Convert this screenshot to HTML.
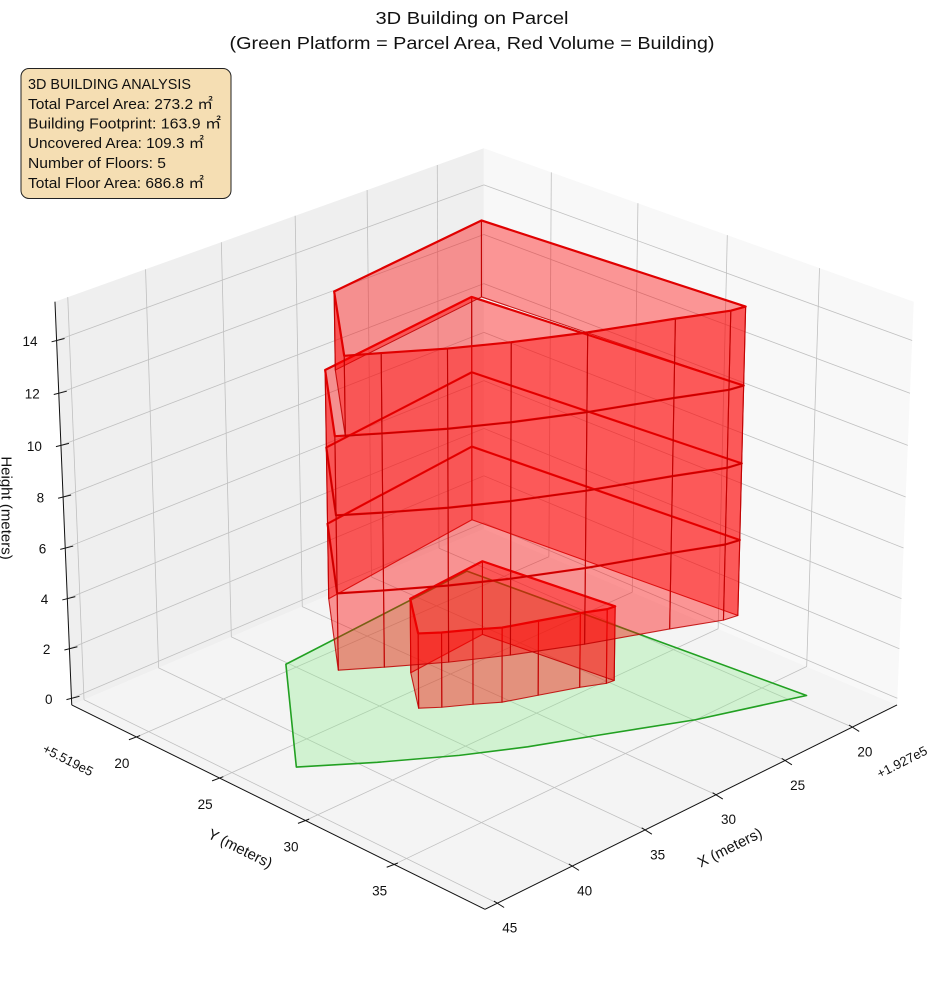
<!DOCTYPE html>
<html><head><meta charset="utf-8"><style>
html,body{margin:0;padding:0;background:#fff;}
svg{display:block;font-family:"Liberation Sans","Noto Sans CJK JP",sans-serif;}
</style></head><body>
<svg id="chart" width="944" height="992" viewBox="0 0 944 992" xmlns="http://www.w3.org/2000/svg">
<rect x="0" y="0" width="944" height="992" fill="#ffffff"/>
<g id="panes"></g>
<g id="grid"></g>
<g id="axes"></g>
<g id="data"></g>
<text x="472" y="24" text-anchor="middle" font-size="17.5" textLength="193" lengthAdjust="spacingAndGlyphs" fill="#111">3D Building on Parcel</text>
<text x="472" y="49" text-anchor="middle" font-size="17.5" textLength="485" lengthAdjust="spacingAndGlyphs" fill="#111">(Green Platform = Parcel Area, Red Volume = Building)</text>
<g>
<rect x="21" y="68.5" width="210" height="130" rx="8" ry="8" fill="#f5deb3" stroke="#222" stroke-width="1"/>
<text x="28" y="89" font-size="14.5" textLength="163" lengthAdjust="spacingAndGlyphs" fill="#111">3D BUILDING ANALYSIS</text>
<text x="28" y="109" font-size="14.5" textLength="185" lengthAdjust="spacingAndGlyphs" fill="#111">Total Parcel Area: 273.2 ㎡</text>
<text x="28" y="128.5" font-size="14.5" textLength="193" lengthAdjust="spacingAndGlyphs" fill="#111">Building Footprint: 163.9 ㎡</text>
<text x="28" y="148" font-size="14.5" textLength="176" lengthAdjust="spacingAndGlyphs" fill="#111">Uncovered Area: 109.3 ㎡</text>
<text x="28" y="168" font-size="14.5" textLength="138" lengthAdjust="spacingAndGlyphs" fill="#111">Number of Floors: 5</text>
<text x="28" y="188" font-size="14.5" textLength="176" lengthAdjust="spacingAndGlyphs" fill="#111">Total Floor Area: 686.8 ㎡</text>
</g>
<text x="0" y="0" transform="translate(730,848) rotate(-26.5)" text-anchor="middle" dominant-baseline="central" font-size="15" fill="#111">X (meters)</text>
<text x="0" y="0" transform="translate(240,849) rotate(26.5)" text-anchor="middle" dominant-baseline="central" font-size="15" fill="#111">Y (meters)</text>
<text x="0" y="0" transform="translate(6,508) rotate(90)" text-anchor="middle" dominant-baseline="central" font-size="15" fill="#111">Height (meters)</text>
<text x="0" y="0" transform="translate(902,762) rotate(-27)" text-anchor="middle" dominant-baseline="central" font-size="13" fill="#111">+1.927e5</text>
<text x="0" y="0" transform="translate(68,760) rotate(27)" text-anchor="middle" dominant-baseline="central" font-size="13" fill="#111">+5.519e5</text>
</svg>
<script>
// ---- axis limits (data units, offsets removed) ----
const xlim = [16.61, 45.81];
const ylim = [16.0, 39.95];
const zlim = [-0.27, 15.46];
const xTicks = [20, 25, 30, 35, 40, 45];
const yTicks = [20, 25, 30, 35];
const zTicks = [0, 2, 4, 6, 8, 10, 12, 14];

// ---- data: parcel polygon (z = 0) ----
const parcelX = [35.65, 42.87, 39.74, 36.40, 33.40, 30.22, 25.46, 19.59, 21.48];
const parcelY = [19.95, 26.91, 28.90, 30.80, 32.22, 33.47, 35.39, 37.15, 18.95];

// ---- data: building footprints ----
const ground_X = [26.20, 31.84, 34.29, 33.40, 32.07, 30.89, 29.07, 26.97, 25.71, 25.20];
const ground_Y = [23.76, 24.18, 26.70, 27.31, 28.02, 28.73, 29.34, 30.05, 30.58, 30.63];
const upperX = [34.73, 23.06, 21.63, 22.52, 25.13, 29.33, 32.76, 35.44, 38.04, 39.85];
const upperY = [21.81, 20.56, 34.76, 34.63, 33.63, 32.15, 30.72, 29.41, 27.91, 26.80];
const topX = [34.38, 22.71, 21.63, 22.52, 25.13, 29.33, 32.76, 35.44, 38.04, 39.50];
const topY = [22.10, 20.85, 34.76, 34.63, 33.63, 32.15, 30.72, 29.41, 27.91, 27.09];

// ---- data: floors ----
const floorBase = [0, 3, 6, 9, 12];
const floorTop = [3, 6, 9, 12, 15];
const floorFootprint = [0, 1, 1, 1, 2];

// ---- camera calibration (unit cube corners -> screen) ----
const cubePts = [[1,0,0],[1,1,0],[0,1,0],[0,0,0],[1,0,1],[0,0,1],[0,1,1]];
const screenPts = [[71.7,705],[485,909.3],[897,705],[484,529],[55,301.7],[483.8,148.3],[913.8,301.7]];

function fitCamera(){
  const A = [], b = [];
  for (let i = 0; i < cubePts.length; i++) {
    const [U,V,W] = cubePts[i]; const [sx,sy] = screenPts[i];
    A.push([U,V,W,1,0,0,0,0,-sx*U,-sx*V,-sx*W]); b.push(sx);
    A.push([0,0,0,0,U,V,W,1,-sy*U,-sy*V,-sy*W]); b.push(sy);
  }
  const n = 11, N = [], r = [];
  for (let i = 0; i < n; i++) {
    N.push(new Array(n).fill(0)); r.push(0);
    for (let k = 0; k < A.length; k++) {
      r[i] += A[k][i]*b[k];
      for (let j = 0; j < n; j++) N[i][j] += A[k][i]*A[k][j];
    }
  }
  for (let c = 0; c < n; c++) {
    let piv = c;
    for (let i = c+1; i < n; i++) if (Math.abs(N[i][c]) > Math.abs(N[piv][c])) piv = i;
    [N[c], N[piv]] = [N[piv], N[c]]; [r[c], r[piv]] = [r[piv], r[c]];
    for (let i = c+1; i < n; i++) {
      const f = N[i][c]/N[c][c];
      for (let j = c; j < n; j++) N[i][j] -= f*N[c][j];
      r[i] -= f*r[c];
    }
  }
  const p = new Array(n).fill(0);
  for (let i = n-1; i >= 0; i--) {
    let s = r[i];
    for (let j = i+1; j < n; j++) s -= N[i][j]*p[j];
    p[i] = s/N[i][i];
  }
  return p;
}
const cam = fitCamera();
function proj(x, y, z){
  const U = (x-xlim[0])/(xlim[1]-xlim[0]);
  const V = (y-ylim[0])/(ylim[1]-ylim[0]);
  const W = (z-zlim[0])/(zlim[1]-zlim[0]);
  const d = cam[8]*U + cam[9]*V + cam[10]*W + 1;
  return [(cam[0]*U+cam[1]*V+cam[2]*W+cam[3])/d, (cam[4]*U+cam[5]*V+cam[6]*W+cam[7])/d];
}

const NS = "http://www.w3.org/2000/svg";
const gPanes = document.getElementById('panes');
const gGrid = document.getElementById('grid');
const gAxes = document.getElementById('axes');
const gData = document.getElementById('data');
function ptsStr(pts){ return pts.map(p => p[0].toFixed(2)+','+p[1].toFixed(2)).join(' '); }
function addPoly(parent, pts, fill, stroke, sw, name){
  const el = document.createElementNS(NS, 'polygon');
  el.setAttribute('points', ptsStr(pts));
  el.setAttribute('fill', fill);
  el.setAttribute('stroke', stroke);
  el.setAttribute('stroke-width', sw);
  el.setAttribute('stroke-linejoin', 'round');
  
  
  parent.appendChild(el);
  return el;
}
function addLine(parent, a, b, stroke, sw, name){
  const el = document.createElementNS(NS, 'line');
  el.setAttribute('x1', a[0].toFixed(2)); el.setAttribute('y1', a[1].toFixed(2));
  el.setAttribute('x2', b[0].toFixed(2)); el.setAttribute('y2', b[1].toFixed(2));
  el.setAttribute('stroke', stroke); el.setAttribute('stroke-width', sw);
  
  
  parent.appendChild(el);
  return el;
}
function addText(parent, x, y, str, anchor, name){
  const el = document.createElementNS(NS, 'text');
  el.setAttribute('x', x.toFixed(2)); el.setAttribute('y', y.toFixed(2));
  el.setAttribute('text-anchor', anchor);
  el.setAttribute('dominant-baseline', 'central');
  el.setAttribute('font-size', '13.5');
  el.setAttribute('fill', '#111');
  el.textContent = str;
  
  
  parent.appendChild(el);
  return el;
}

const [x0,x1] = xlim, [y0,y1] = ylim, [z0,z1] = zlim;
// panes
addPoly(gPanes, [proj(x1,y0,z0),proj(x0,y0,z0),proj(x0,y1,z0),proj(x1,y1,z0)], '#f4f4f4', 'none', 0, 'floor-pane');
addPoly(gPanes, [proj(x1,y0,z0),proj(x0,y0,z0),proj(x0,y0,z1),proj(x1,y0,z1)], '#efefef', 'none', 0, 'left-pane');
addPoly(gPanes, [proj(x0,y0,z0),proj(x0,y1,z0),proj(x0,y1,z1),proj(x0,y0,z1)], '#f8f8f8', 'none', 0, 'right-pane');

// gridlines
const gc = '#c0c0c0', gw = 0.8;
xTicks.forEach(t => {
  addLine(gGrid, proj(t,y0,z0), proj(t,y1,z0), gc, gw, 'x-gridline-floor');
  addLine(gGrid, proj(t,y0,z0), proj(t,y0,z1), gc, gw, 'x-gridline-pane');
});
yTicks.forEach(t => {
  addLine(gGrid, proj(x0,t,z0), proj(x1,t,z0), gc, gw, 'y-gridline-floor');
  addLine(gGrid, proj(x0,t,z0), proj(x0,t,z1), gc, gw, 'y-gridline-pane');
});
zTicks.forEach(t => {
  addLine(gGrid, proj(x0,y0,t), proj(x1,y0,t), gc, gw, 'z-gridline-left');
  addLine(gGrid, proj(x0,y0,t), proj(x0,y1,t), gc, gw, 'z-gridline-right');
});

// axis lines
addLine(gAxes, proj(x1,y1,z0), proj(x0,y1,z0), '#111', 1, 'x-axis-line');
addLine(gAxes, proj(x1,y0,z0), proj(x1,y1,z0), '#111', 1, 'y-axis-line');
addLine(gAxes, proj(x1,y0,z0), proj(x1,y0,z1), '#111', 1, 'z-axis-line');

// ticks + labels
xTicks.forEach(t => {
  const p = proj(t, y1, z0);
  addLine(gAxes, [p[0]-3.4,p[1]-2.1], [p[0]+6.8,p[1]+4.3], '#111', 1, 'x-tick');
  addText(gAxes, p[0]+12.5, p[1]+25, String(t), 'middle', 'x-tick-label');
});
yTicks.forEach(t => {
  const p = proj(x1, t, z0);
  addLine(gAxes, [p[0]+3.7,p[1]-1.4], [p[0]-7.5,p[1]+2.8], '#111', 1, 'y-tick');
  addText(gAxes, p[0]-14.5, p[1]+26.5, String(t), 'middle', 'y-tick-label');
});
zTicks.forEach(t => {
  const p = proj(x1, y0, t);
  addLine(gAxes, [p[0]+8,p[1]-2], [p[0]-5,p[1]+1.3], '#111', 1, 'z-tick');
  addText(gAxes, p[0]-19, p[1]+1, String(t), 'end', 'z-tick-label');
});

// parcel platform
const parcelPts = parcelX.map((x,i) => proj(x, parcelY[i], 0));
addPoly(gData, parcelPts, 'rgba(144,238,144,0.35)', '#22a022', 1.6, 'parcel-platform');

// building floors
const fpX = [ground_X, upperX, topX], fpY = [ground_Y, upperY, topY];
floorBase.forEach((zb, f) => {
  const zt = floorTop[f];
  const fx = fpX[floorFootprint[f]], fy = fpY[floorFootprint[f]];
  const n = fx.length;
  const g = document.createElementNS(NS, 'g');
  
  
  gData.appendChild(g);
  for (let i = 0; i < n; i++) {
    const j = (i+1) % n;
    addPoly(g, [proj(fx[i],fy[i],zb), proj(fx[j],fy[j],zb), proj(fx[j],fy[j],zt), proj(fx[i],fy[i],zt)],
      'rgba(255,0,0,0.4)', 'rgba(190,0,0,0.85)', 1.1, 'floor-wall');
  }
  const top = fx.map((x,i) => proj(x, fy[i], zt));
  addPoly(g, top, 'none', '#e00000', 2.2, 'floor-top-outline');
});
</script>
</body></html>
